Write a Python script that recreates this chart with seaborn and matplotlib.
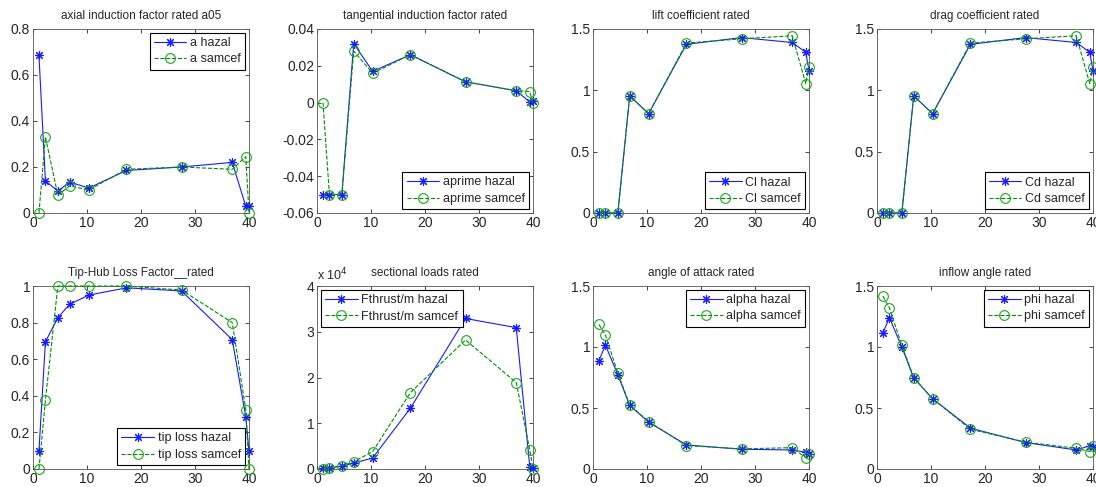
import numpy as np
import pandas as pd
import matplotlib as mpl
import matplotlib.pyplot as plt
plt.switch_backend('Agg')
import seaborn as sns

# radial stations along the blade (m)
r = [1.1, 2.3, 4.6, 6.8, 10.3, 17.3, 27.5, 36.9, 39.4, 40.0]

a_hazal = [0.685, 0.14, 0.095, 0.135, 0.108, 0.185, 0.2, 0.22, 0.03, 0.03]
a_samcef = [0.0, 0.33, 0.078, 0.118, 0.1, 0.19, 0.2, 0.19, 0.245, 0.0]

aprime_hazal = [-0.05, -0.05, -0.05, 0.032, 0.017, 0.026, 0.0113, 0.0064, 0.0004, 0.001]
aprime_samcef = [0.0, -0.05, -0.05, 0.028, 0.016, 0.026, 0.0113, 0.0065, 0.006, 0.0]

cl_hazal = [0.0, 0.0, 0.0, 0.955, 0.81, 1.375, 1.43, 1.39, 1.31, 1.16]
cl_samcef = [0.0, 0.0, 0.0, 0.955, 0.81, 1.385, 1.42, 1.445, 1.055, 1.19]

cd_hazal = [0.0, 0.0, 0.0, 0.955, 0.81, 1.375, 1.43, 1.39, 1.31, 1.16]
cd_samcef = [0.0, 0.0, 0.0, 0.955, 0.81, 1.385, 1.42, 1.445, 1.055, 1.19]

tip_hazal = [0.098, 0.695, 0.827, 0.9, 0.95, 0.99, 0.973, 0.707, 0.285, 0.098]
tip_samcef = [0.0, 0.375, 1.0, 1.0, 1.0, 1.0, 0.978, 0.8, 0.325, 0.0]

fthrust_hazal = [200, 300, 600, 1300, 2400, 13300, 32900, 30900, 500, 200]
fthrust_samcef = [100, 200, 700, 1600, 3800, 16700, 28200, 18900, 4200, 0]

alpha_hazal = [0.888, 1.015, 0.773, 0.521, 0.384, 0.197, 0.162, 0.156, 0.137, 0.12]
alpha_samcef = [1.185, 1.097, 0.787, 0.525, 0.389, 0.192, 0.165, 0.175, 0.093, 0.12]

phi_hazal = [1.116, 1.24, 1.0, 0.746, 0.576, 0.335, 0.217, 0.156, 0.19, 0.183]
phi_samcef = [1.418, 1.32, 1.014, 0.75, 0.575, 0.326, 0.22, 0.17, 0.143, 0.19]

sns.set_style("white")
plt.rcParams['font.family'] = ['Liberation Sans', 'DejaVu Sans']
plt.rcParams['axes.unicode_minus'] = False
plt.rcParams['xtick.direction'] = 'in'
plt.rcParams['ytick.direction'] = 'in'

W, H = 1096, 487
fig = plt.figure(figsize=(W / 100, H / 100), dpi=100)

lefts = [33, 317, 593, 877]
rows = [(29, 213), (286, 469)]

panels = [
    ("axial induction factor rated a05", a_hazal, a_samcef, "a hazal", "a samcef",
     (0, 0.8), np.arange(0, 0.81, 0.2), "upper right"),
    ("tangential induction factor rated", aprime_hazal, aprime_samcef, "aprime hazal", "aprime samcef",
     (-0.06, 0.04), np.arange(-0.06, 0.041, 0.02), "lower right"),
    ("lift coefficient rated", cl_hazal, cl_samcef, "Cl hazal", "Cl samcef",
     (0, 1.5), np.arange(0, 1.51, 0.5), "lower right"),
    ("drag coefficient rated", cd_hazal, cd_samcef, "Cd hazal", "Cd samcef",
     (0, 1.5), np.arange(0, 1.51, 0.5), "lower right"),
    ("Tip-Hub Loss Factor__rated", tip_hazal, tip_samcef, "tip loss hazal", "tip loss samcef",
     (0, 1), np.arange(0, 1.01, 0.2), "lower right"),
    ("sectional loads rated", fthrust_hazal, fthrust_samcef, "Fthrust/m hazal", "Fthrust/m samcef",
     (0, 40000), np.arange(0, 40001, 10000), "upper left"),
    ("angle of attack rated", alpha_hazal, alpha_samcef, "alpha hazal", "alpha samcef",
     (0, 1.5), np.arange(0, 1.51, 0.5), "upper right"),
    ("inflow angle rated", phi_hazal, phi_samcef, "phi hazal", "phi samcef",
     (0, 1.5), np.arange(0, 1.51, 0.5), "upper right"),
]

asterisk = (8, 2, 0)

for i, (title, yh, ys, lh, ls, ylim, yticks, loc) in enumerate(panels):
    top, bot = rows[i // 4]
    left = lefts[i % 4]
    ax = fig.add_axes([left / W, 1 - bot / H, 216 / W, (bot - top) / H])

    sns.lineplot(ax=ax, x=r, y=yh, sort=False, estimator=None, color="#1a1aff",
                 linewidth=0.8, marker=asterisk, markersize=6.5, markeredgewidth=0.8,
                 markeredgecolor="#1a1aff", label=lh, clip_on=False, zorder=3)
    sns.lineplot(ax=ax, x=r, y=ys, sort=False, estimator=None, color=(0, 0.55, 0),
                 linewidth=0.8, linestyle="--", marker="o", markersize=7,
                 markerfacecolor="none", markeredgecolor=(0.1, 0.65, 0.1),
                 markeredgewidth=0.8, label=ls, clip_on=False, zorder=3)

    ax.set_xlim(0, 40)
    ax.set_ylim(*ylim)
    ax.set_xticks([0, 10, 20, 30, 40])
    ax.set_yticks(yticks)
    if i == 5:
        ax.yaxis.set_major_formatter(mpl.ticker.FuncFormatter(lambda v, p: "%g" % (v / 1e4)))
        ax.text(0, 1.015, "x 10$^4$", transform=ax.transAxes, fontsize=9, ha="left", va="bottom")
    else:
        ax.yaxis.set_major_formatter(mpl.ticker.FuncFormatter(lambda v, p: "%g" % round(v, 4)))
    ax.tick_params(axis="both", labelsize=10, length=3, width=0.6, pad=2,
                   top=True, right=True, bottom=True, left=True)
    for s in ax.spines.values():
        s.set_linewidth(0.6)
        s.set_color("#555555")
    ax.set_title(title, fontsize=8.5, pad=7)

    leg = ax.legend(loc=loc, fontsize=9, fancybox=False, edgecolor="black", framealpha=1,
                    handlelength=2.6, borderpad=0.35, labelspacing=0.35, handletextpad=0.3,
                    borderaxespad=0.3)
    leg.get_frame().set_linewidth(0.8)
    leg.set_zorder(5)

fig.savefig("out.png", dpi=100)
